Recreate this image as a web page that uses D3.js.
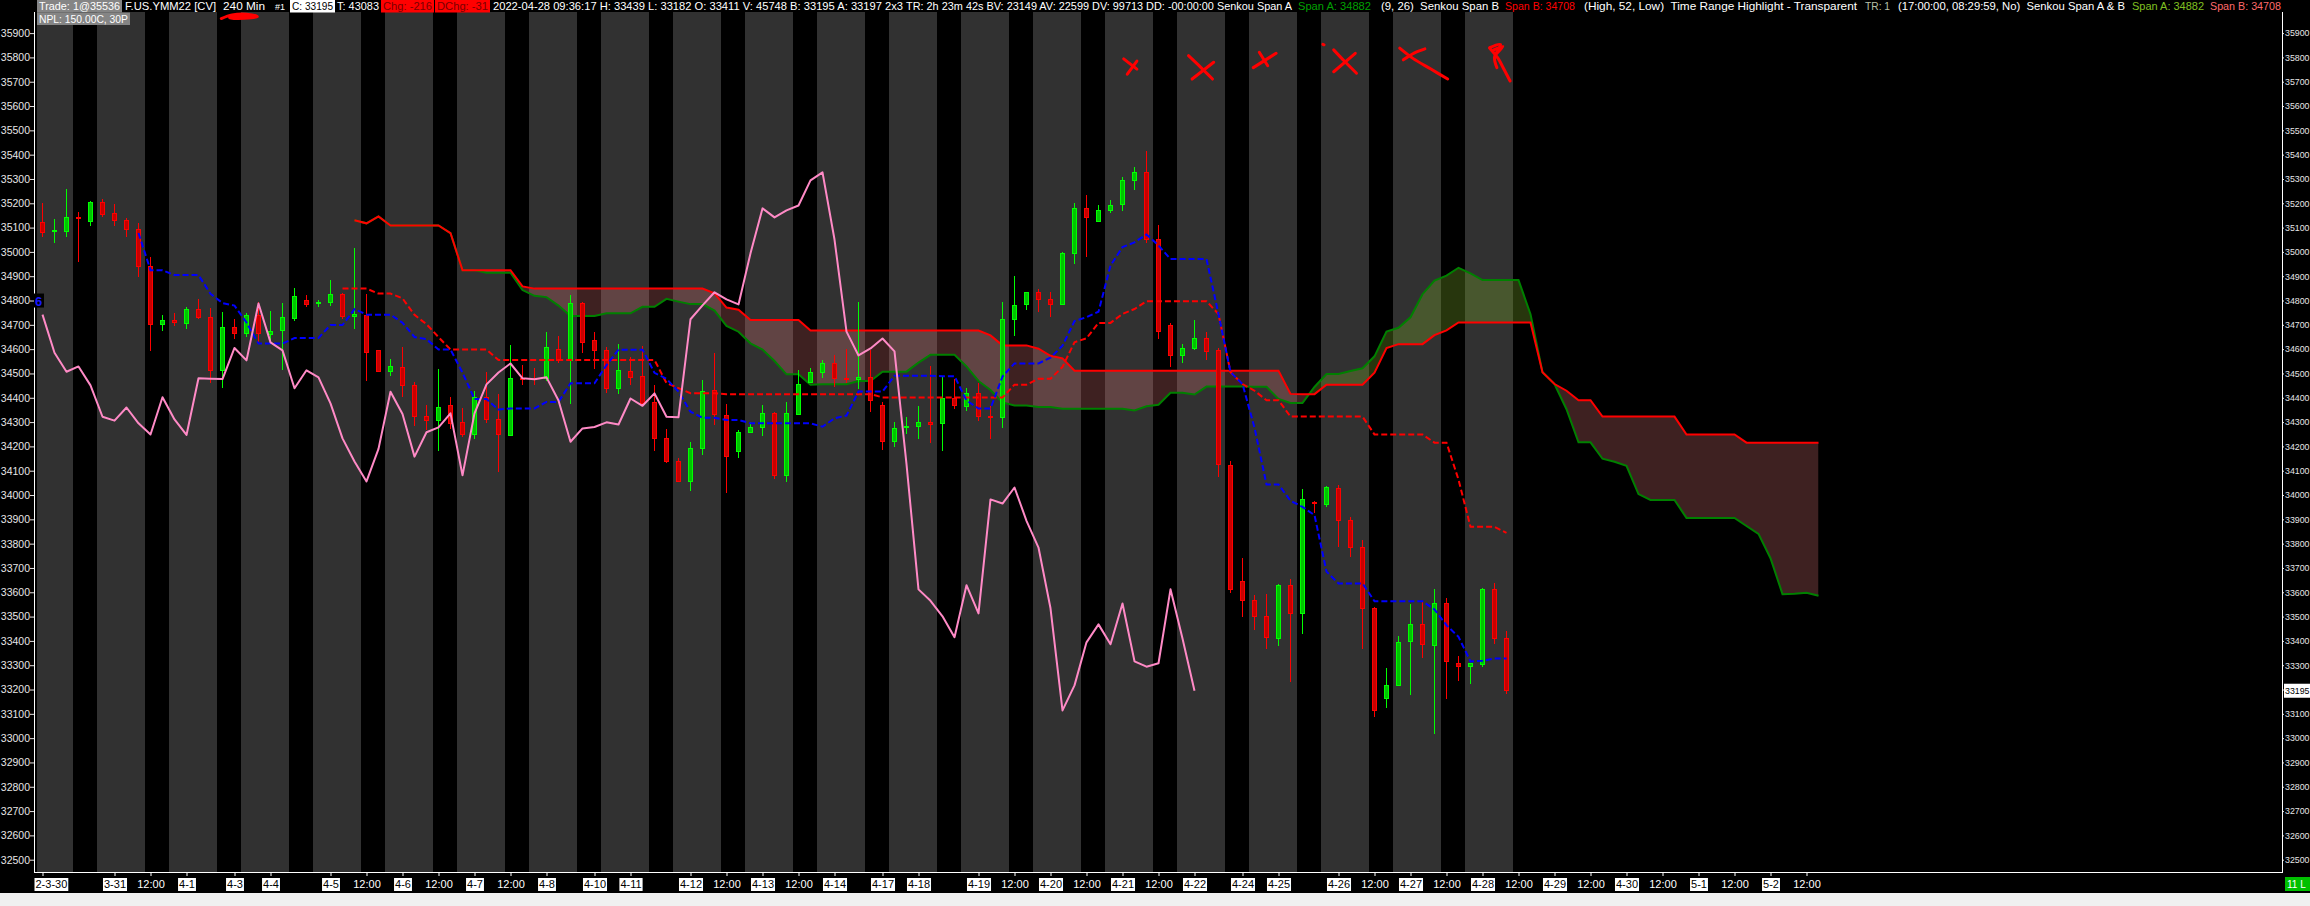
<!DOCTYPE html>
<html>
<head>
<meta charset="utf-8">
<script src="https://cdn.jsdelivr.net/npm/d3@7/dist/d3.min.js"></script>
<style>
  html, body { margin: 0; padding: 0; background: #000; overflow: hidden; }
  svg { display: block; font-family: 'Liberation Sans', Arial, sans-serif; }
  text { white-space: pre; }
</style>
</head>
<body>
<svg id="chart" width="2310" height="906"></svg>
<script>
// ── YM 240 min bars, 2022-03-30 .. 2022-04-28 (bar index 0..122) ──
var opens  = [35122,35083,35083,35142,35127,35204,35159,35128,35093,34939,34702,34718,34706,34764,34731,34511,34689,34665,34739,34661,
              34676,34726,34802,34788,34792,34825,34733,34739,34593,34508,34526,34451,34323,34306,34369,34299,34249,34402,34311,34245,
              34481,34481,34481,34599,34554,34788,34636,34595,34439,34509,34488,34381,34232,34138,34056,34190,34429,34328,34180,34258,
              34278,34336,34081,34333,34462,34503,34540,34480,34476,34484,34370,34219,34276,34281,34299,34295,34397,34363,34418,34325,
              34319,34723,34783,34834,34805,34784,34994,35179,35125,35171,35195,35294,35327,35051,34696,34574,34602,34644,34595,34122,
              33645,33567,33501,33411,33629,33513,33971,33960,34027,33897,33784,33534,33164,33217,33398,33468,33382,33554,33308,33294,
              33303,33612,33411];
var highs  = [35200,35134,35257,35163,35208,35216,35197,35138,35117,34978,34740,34747,34774,34805,34770,34752,34722,34747,34795,34757,
              34788,34851,34822,34802,34884,34829,35015,34825,34593,34559,34607,34463,34370,34517,34402,34360,34426,34504,34414,34616,
              34535,34524,34670,34654,34823,34794,34670,34607,34620,34566,34611,34451,34270,34151,34218,34472,34583,34376,34267,34302,
              34370,34340,34381,34514,34521,34555,34576,34599,34796,34596,34384,34299,34319,34366,34530,34489,34476,34439,34459,34366,
              34793,34901,34834,34846,34834,34999,35202,35234,35191,35212,35308,35348,35413,35109,34709,34621,34720,34670,34603,34138,
              33742,33589,33593,33634,33653,34023,33976,34037,34041,33911,33815,33538,33287,33419,33553,33560,33613,33576,33338,33310,
              33618,33637,33439];
var lows   = [35060,35035,35063,34960,35108,35145,35108,35063,34898,34593,34676,34696,34681,34722,34459,34441,34643,34651,34630,34630,
              34514,34715,34773,34775,34777,34722,34683,34469,34507,34490,34402,34285,34267,34182,34271,34240,34230,34297,34096,34245,
              34451,34451,34470,34544,34373,34583,34520,34421,34414,34451,34377,34182,34133,34056,34015,34166,34288,34007,34152,34258,
              34244,34064,34055,34333,34459,34481,34445,34462,34438,34342,34185,34196,34253,34231,34215,34182,34352,34347,34304,34229,
              34274,34654,34761,34754,34731,34784,34950,34977,35125,35158,35167,35253,35038,34640,34528,34541,34596,34555,34075,33598,
              33500,33445,33367,33380,33232,33427,33927,33949,33787,33746,33365,33085,33125,33217,33179,33331,33018,33162,33235,33224,
              33294,33388,33182];
var closes = [35080,35086,35142,35137,35204,35155,35128,35093,34939,34702,34718,34710,34765,34731,34511,34689,34665,34739,34665,34673,
              34731,34817,34783,34792,34825,34733,34742,34585,34507,34529,34451,34322,34306,34360,34295,34249,34402,34311,34247,34480,
              34478,34477,34605,34554,34788,34628,34595,34439,34513,34484,34377,34233,34138,34056,34190,34425,34333,34158,34258,34278,
              34336,34081,34336,34455,34504,34541,34480,34476,34484,34389,34219,34274,34280,34299,34290,34397,34367,34418,34322,34320,
              34723,34780,34834,34805,34784,34994,35179,35142,35171,35191,35294,35327,35051,34672,34574,34603,34644,34591,34127,33612,
              33565,33501,33415,33629,33513,33982,33965,34031,33894,33784,33534,33114,33217,33394,33468,33386,33554,33316,33294,33308,
              33612,33410,33195];

// bottom axis: bar index of each label
var tickBars   = [0,6,9,12,16,19,24,27,30,33,36,39,42,46,49,54,57,60,63,66,70,73,78,81,84,87,90,93,96,100,103,108,111,114,117,120,123,126,129,132,135,138,141,144,147];
var tickLabels = ['2-3-30','3-31','12:00','4-1','4-3','4-4','4-5','12:00','4-6','12:00','4-7','12:00','4-8','4-10','4-11','4-12','12:00','4-13','12:00','4-14',
                  '4-17','4-18','4-19','12:00','4-20','12:00','4-21','12:00','4-22','4-24','4-25','4-26','12:00','4-27','12:00','4-28','12:00','4-29','12:00','4-30',
                  '12:00','5-1','12:00','5-2','12:00'];
var priceTicks = d3.range(32500, 35901, 100);
var lastPrice = 33195;

// hand-drawn red marks, as [bar, price] strokes
var scribbles = [
  [[90.1,35794],[91.2,35752]], [[91.2,35785],[90.4,35731]],
  [[95.5,35807],[96.5,35760],[97.5,35711]], [[97.6,35780],[95.8,35711]],
  [[100.9,35758],[102.8,35817]], [[101.4,35821],[102.1,35766]],
  [[106.7,35854],[106.8,35852]],
  [[107.6,35831],[108.5,35784],[109.5,35735]], [[109.4,35817],[107.6,35741]],
  [[113.1,35838],[114.2,35796],[115.7,35752],[117.1,35711]], [[113.4,35790],[114.3,35818],[115.2,35835]],
  [[120.6,35838],[121.3,35796],[121.8,35750],[122.3,35703]],
  [[120.6,35840],[121.5,35853],[121.0,35800],[121.2,35758]], [[120.9,35830],[121.7,35845],[121.1,35812]],
  [[14.9,35960],[15.8,35975],[17.0,35978],[17.9,35968],[16.8,35961],[15.6,35963],[16.6,35971],[17.6,35966]]
];

// ── Layout ──
var W = 2310, H = 906;
var plotL = 34, plotR = 2282, plotT = 12, plotB = 872;
var lastBar = closes.length - 1;            // 122
var futureBar = lastBar + 26;               // 148

var svg = d3.select('#chart');
var x = d3.scaleLinear().domain([0, futureBar]).range([42.5, 42.5 + 12 * futureBar]);
var y = d3.scaleLinear().domain([32500, 35900]).range([859.7, 33.1]);

svg.append('rect').attr('width', W).attr('height', H).attr('fill', '#000');
svg.append('rect').attr('x', 0).attr('y', 893).attr('width', W).attr('height', H - 893).attr('fill', '#f0f0f0');

// ── Time range highlight (17:00 - 08:30), 4 of every 6 bars ──
var runs = [];
d3.range(0, lastBar + 1).forEach(function(i) {
  if ((i + 1) % 6 < 4) {
    var r = runs[runs.length - 1];
    if (r && r[1] === i - 1) r[1] = i; else runs.push([i, i]);
  }
});
svg.append('g').selectAll('rect').data(runs).join('rect')
  .attr('x', function(d) { return x(d[0]) - 6; })
  .attr('width', function(d) { return x(d[1]) - x(d[0]) + 12; })
  .attr('y', plotT).attr('height', plotB - plotT)
  .attr('fill', '#313131').attr('shape-rendering', 'crispEdges');

// ── Ichimoku (9, 26, 52) from the bars ──
function midRange(j, len) {
  var s = Math.max(0, j - len + 1);
  return (d3.max(highs.slice(s, j + 1)) + d3.min(lows.slice(s, j + 1))) / 2;
}
var tenkan = [], kijun = [], cloud = [], chikou = [];
d3.range(0, lastBar + 1).forEach(function(j) {
  if (j >= 8) tenkan.push({ i: j, v: midRange(j, 9) });
  if (j >= 25) kijun.push({ i: j, v: midRange(j, 26) });
  cloud.push({ i: j + 26, a: (midRange(j, 9) + midRange(j, 26)) / 2, b: midRange(j, 52) });
  if (j >= 26) chikou.push({ i: j - 26, v: closes[j] });
});

var defs = svg.append('defs');
defs.append('clipPath').attr('id', 'aboveB').append('path')
  .attr('d', d3.area().x(function(d) { return x(d.i); }).y0(0).y1(function(d) { return y(d.b); })(cloud));
defs.append('clipPath').attr('id', 'belowB').append('path')
  .attr('d', d3.area().x(function(d) { return x(d.i); }).y0(H).y1(function(d) { return y(d.b); })(cloud));

var cloudArea = d3.area().x(function(d) { return x(d.i); })
  .y0(function(d) { return y(d.b); }).y1(function(d) { return y(d.a); });
svg.append('path').attr('d', cloudArea(cloud)).attr('clip-path', 'url(#aboveB)')
  .attr('fill', '#78a828').attr('fill-opacity', 0.32);
svg.append('path').attr('d', cloudArea(cloud)).attr('clip-path', 'url(#belowB)')
  .attr('fill', '#e07878').attr('fill-opacity', 0.28);

var lineOf = d3.line().x(function(d) { return x(d.i); }).y(function(d) { return y(d.v); });
svg.append('path').attr('d', lineOf(cloud.map(function(d) { return { i: d.i, v: d.a }; })))
  .attr('fill', 'none').attr('stroke', '#008000').attr('stroke-width', 2);
svg.append('path').attr('d', lineOf(cloud.map(function(d) { return { i: d.i, v: d.b }; })))
  .attr('fill', 'none').attr('stroke', '#ff0000').attr('stroke-width', 2);

// ── Candles ──
var bars = d3.range(0, lastBar + 1).map(function(i) {
  return { i: i, o: opens[i], h: highs[i], l: lows[i], c: closes[i], up: closes[i] >= opens[i] };
});
var cg = svg.append('g').attr('shape-rendering', 'crispEdges');
cg.selectAll('line').data(bars).join('line')
  .attr('x1', function(d) { return x(d.i); }).attr('x2', function(d) { return x(d.i); })
  .attr('y1', function(d) { return y(d.h); }).attr('y2', function(d) { return y(d.l); })
  .attr('stroke', function(d) { return d.up ? '#00ff00' : '#ff0000'; });
cg.selectAll('rect').data(bars).join('rect')
  .attr('x', function(d) { return x(d.i) - 2; }).attr('width', 4)
  .attr('y', function(d) { return y(Math.max(d.o, d.c)); })
  .attr('height', function(d) { return Math.max(1, y(Math.min(d.o, d.c)) - y(Math.max(d.o, d.c))); })
  .attr('fill', function(d) { return d.up ? '#00c400' : '#c80000'; })
  .attr('stroke', function(d) { return d.up ? '#00ff00' : '#ff0000'; });

// ── Kijun, Tenkan, Chikou ──
svg.append('path').attr('d', lineOf(kijun)).attr('fill', 'none')
  .attr('stroke', '#ff0000').attr('stroke-width', 2).attr('stroke-dasharray', '6,3');
svg.append('path').attr('d', lineOf(tenkan)).attr('fill', 'none')
  .attr('stroke', '#0000ff').attr('stroke-width', 2).attr('stroke-dasharray', '6,3');
svg.append('path').attr('d', lineOf(chikou)).attr('fill', 'none')
  .attr('stroke', '#ff8ac6').attr('stroke-width', 2).attr('stroke-linejoin', 'round');

// ── Red drawings ──
var penLine = d3.line().x(function(d) { return x(d[0]); }).y(function(d) { return y(d[1]); })
  .curve(d3.curveCatmullRom);
svg.append('g').selectAll('path').data(scribbles).join('path')
  .attr('d', penLine).attr('fill', 'none').attr('stroke', '#ff0000')
  .attr('stroke-width', 3).attr('stroke-linecap', 'round').attr('stroke-linejoin', 'round');

// ── Axes ──
var yLeft = svg.append('g').attr('transform', 'translate(' + plotL + ',0)')
  .call(d3.axisLeft(y).tickValues(priceTicks).tickSize(4).tickPadding(0).tickFormat(d3.format('d')));
var yRight = svg.append('g').attr('transform', 'translate(' + plotR + ',0)')
  .call(d3.axisRight(y).tickValues(priceTicks).tickSize(2).tickPadding(1).tickFormat(d3.format('d')));
[yLeft, yRight].forEach(function(g) {
  g.select('.domain').remove();
  g.selectAll('line').attr('stroke', '#e0e0e0');
  g.selectAll('text').attr('fill', '#e6e6e6').attr('font-size', 10.5)
    .attr('font-family', "'Liberation Sans', Arial, sans-serif");
});
// the right-hand labels have only the strip up to the window edge
yRight.selectAll('text').attr('font-size', 8.8);

var xAxis = svg.append('g').attr('transform', 'translate(0,' + plotB + ')')
  .call(d3.axisBottom(x).tickValues(tickBars).tickSize(4).tickPadding(4)
    .tickFormat(function(d, i) { return tickLabels[i]; }));
xAxis.select('.domain').remove();
xAxis.selectAll('line').attr('stroke', '#ffffff');
xAxis.selectAll('text').attr('font-size', 11).attr('font-family', "'Liberation Sans', Arial, sans-serif")
  .attr('fill', function(d, i) { return tickLabels[i] === '12:00' ? '#ffffff' : '#000000'; });
xAxis.selectAll('.tick').each(function(d, i) {
  var t = d3.select(this).select('text');
  var bb = t.node().getBBox();
  var shift = Math.max(0, plotL + 1 - (x(d) + bb.x));
  if (shift) t.attr('x', shift);
  if (tickLabels[i] !== '12:00') {
    d3.select(this).insert('rect', 'text')
      .attr('x', bb.x + shift - 1).attr('y', 6).attr('width', bb.width + 2).attr('height', 13)
      .attr('fill', '#ffffff');
  }
});

// frame lines
var frame = svg.append('g').attr('stroke', '#ffffff').attr('shape-rendering', 'crispEdges');
frame.append('line').attr('x1', plotL + 0.5).attr('x2', plotL + 0.5).attr('y1', plotT).attr('y2', plotB);
frame.append('line').attr('x1', plotR + 0.5).attr('x2', plotR + 0.5).attr('y1', plotT).attr('y2', plotB);
frame.append('line').attr('x1', plotL).attr('x2', plotR + 1).attr('y1', plotB + 0.5).attr('y2', plotB + 0.5);

// last price marker on the right axis, blue marker on the left
svg.append('rect').attr('x', plotR + 2).attr('y', y(lastPrice) - 7).attr('width', W - plotR).attr('height', 14).attr('fill', '#ffffff');
svg.append('text').attr('x', plotR + 3).attr('y', y(lastPrice) + 3.5).attr('font-size', 8.8)
  .attr('fill', '#000').text(d3.format('d')(lastPrice));
svg.append('rect').attr('x', plotL).attr('y', y(34800) - 7).attr('width', 10).attr('height', 14).attr('fill', '#000');
svg.append('text').attr('x', plotL + 1).attr('y', y(34800) + 5).attr('font-size', 13).attr('font-weight', 'bold')
  .attr('fill', '#1818ff').text('6');

// bottom-right status box
svg.append('rect').attr('x', plotR + 3).attr('y', 877).attr('width', W - plotR).attr('height', 14).attr('fill', '#00c000');
svg.append('text').attr('x', plotR + 5).attr('y', 888).attr('font-size', 10).attr('fill', '#fff').text('11 L');

// ── Header ──
var headerSegs = [
  { t: 'Trade: 1@35536', x: 37, w: 85, fg: '#fff', bg: '#858585' },
  { t: 'F.US.YMM22 [CV]', x: 125, w: 91, fg: '#fff' },
  { t: '240 Min', x: 223, w: 42, fg: '#fff' },
  { t: '#1', x: 275, w: 10, fg: '#fff' },
  { t: 'C: 33195', x: 290, w: 45, fg: '#000', bg: '#fff' },
  { t: 'T: 43083', x: 337, w: 42, fg: '#fff' },
  { t: 'Chg: -216', x: 381, w: 53, fg: '#7a0000', bg: '#ff0000' },
  { t: 'DChg: -31', x: 435, w: 55, fg: '#7a0000', bg: '#ff0000' },
  { t: '2022-04-28 09:36:17 H: 33439 L: 33182 O: 33411 V: 45748 B: 33195 A: 33197 2x3', x: 493, w: 410, fg: '#fff' },
  { t: 'TR: 2h 23m 42s BV: 23149 AV: 22599 DV: 99713 DD: -00:00:00 Senkou Span A', x: 906, w: 386, fg: '#fff' },
  { t: 'Span A: 34882', x: 1298, w: 73, fg: '#00a000' },
  { t: '(9, 26)  Senkou Span B', x: 1381, w: 118, fg: '#fff' },
  { t: 'Span B: 34708', x: 1505, w: 70, fg: '#ff0000' },
  { t: '(High, 52, Low)  Time Range Highlight - Transparent', x: 1584, w: 273, fg: '#fff' },
  { t: 'TR: 1', x: 1865, w: 25, fg: '#b8c0a8' },
  { t: '(17:00:00, 08:29:59, No)  Senkou Span A & B', x: 1898, w: 227, fg: '#fff' },
  { t: 'Span A: 34882', x: 2132, w: 72, fg: '#80c020' },
  { t: 'Span B: 34708', x: 2210, w: 71, fg: '#ff6a6a' },
  { t: 'NPL: 150.00C, 30P', x: 37, w: 93, fg: '#fff', bg: '#858585', row: 1 }
];
var hg = svg.append('g');
headerSegs.forEach(function(s) {
  var top = s.row ? 12.5 : 0;
  if (s.bg) hg.append('rect').attr('x', s.x).attr('y', top).attr('width', s.w).attr('height', 12.5).attr('fill', s.bg);
  var pad = s.bg ? 2 : 0;
  var fit = s.w - 2 * pad;
  var t = hg.append('text').attr('x', s.x + pad).attr('y', top + 10).attr('font-size', 11.5)
    .attr('fill', s.fg).text(s.t);
  // shrink the font until the segment fits its slot, then stretch to the slot
  var len = t.node().getComputedTextLength();
  if (len > fit) t.attr('font-size', 11.5 * fit / len);
  t.attr('textLength', fit).attr('lengthAdjust', 'spacingAndGlyphs');
});
</script>
</body>
</html>
